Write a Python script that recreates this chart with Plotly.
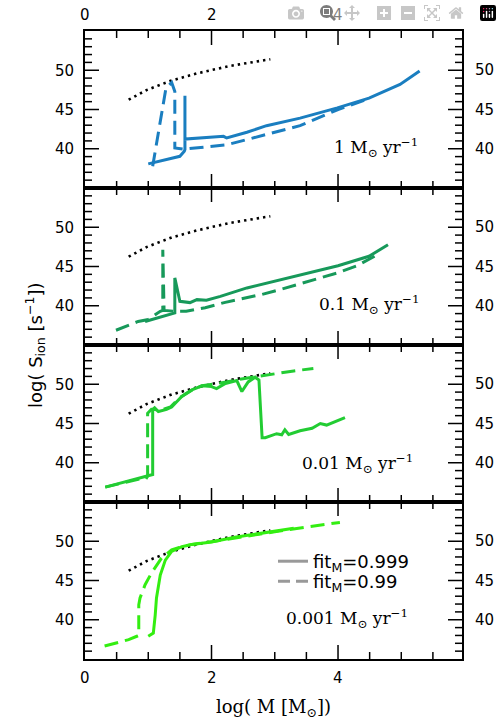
import plotly.graph_objects as go
from plotly.subplots import make_subplots

# ---------------- data ----------------
ZAMS_X = [0.69, 0.98, 1.37, 1.77, 2.29, 2.93]
ZAMS_Y = [46.25, 47.5, 48.7, 49.6, 50.55, 51.4]

P1_SOLID_X = [1.0, 1.5, 1.57, 1.58, 1.58, 1.58, 2.19, 2.24, 2.56, 2.87, 3.4, 3.99, 4.49, 4.98, 5.29]
P1_SOLID_Y = [38.07, 39.04, 39.67, 39.9, 46.75, 41.24, 41.58, 41.37, 42.1, 42.94, 43.9, 45.2, 46.45, 48.2, 49.9]
P1_DASH_X = [1.07, 1.28, 1.37, 1.42, 1.42, 1.56, 2.24, 2.87, 3.4, 4.0, 4.5]
P1_DASH_Y = [37.77, 47.72, 48.43, 47.3, 40.1, 39.95, 40.5, 41.8, 42.94, 45.0, 46.4]

P2_SOLID_X = [0.95, 1.42, 1.42, 1.5, 1.66, 1.77, 1.92, 2.14, 2.56, 2.98, 3.4, 4.0, 4.49, 4.79]
P2_SOLID_Y = [38.0, 39.1, 43.55, 40.57, 40.4, 40.78, 40.7, 41.2, 42.27, 43.1, 43.96, 45.1, 46.3, 47.78]
P2_DASH_X = [0.49, 0.84, 1.0, 1.19, 1.23, 1.23, 1.25, 1.42, 1.6, 1.9, 2.2, 2.5, 2.8, 3.1, 3.4, 3.7, 4.0, 4.3, 4.5, 4.6]
P2_DASH_Y = [36.88, 38.0, 38.24, 39.3, 39.4, 47.14, 39.4, 39.3, 39.3, 39.75, 40.4, 40.95, 41.45, 42.1, 42.8, 43.45, 44.2, 45.1, 45.96, 46.4]

P3_SOLID_X = [0.32, 0.95, 1.07, 1.07, 1.1, 1.16, 1.29, 1.37, 1.53, 1.69, 1.85, 2.0, 2.08, 2.22, 2.4, 2.48, 2.58, 2.69,
              2.75, 2.8, 2.85, 3.03, 3.11, 3.16, 3.22, 3.40, 3.59, 3.72, 3.82, 4.11]
P3_SOLID_Y = [36.9, 38.3, 38.5, 46.8, 47.0, 46.53, 46.8, 47.1, 48.44, 49.3, 49.8, 49.7, 49.45, 50.1, 50.47, 49.07, 50.3, 50.9,
              50.55, 43.2, 43.2, 43.7, 43.56, 44.2, 43.6, 44.07, 44.4, 45.0, 44.8, 45.76]
P3_DASH_X = [0.32, 0.9, 0.96, 0.99, 0.99, 1.05, 1.2, 1.35, 1.5, 1.7, 1.85, 2.1, 2.5, 2.95, 3.3, 3.61]
P3_DASH_Y = [36.9, 38.0, 37.9, 38.3, 46.3, 46.8, 46.7, 47.1, 48.3, 49.3, 49.8, 50.1, 50.7, 51.3, 51.7, 52.0]

P4_SOLID_X = [1.0, 1.08, 1.11, 1.13, 1.19, 1.27, 1.37, 1.53, 1.69, 2.0, 2.37, 2.8, 3.3]
P4_SOLID_Y = [37.9, 38.3, 40.6, 42.77, 45.7, 47.6, 48.7, 49.3, 49.6, 49.9, 50.5, 51.0, 51.66]
P4_DASH_X = [0.31, 0.69, 0.82, 0.85, 0.85, 0.87, 0.95, 1.05, 1.21, 1.37, 1.53, 1.69, 2.0, 2.5, 3.0, 3.5, 4.03]
P4_DASH_Y = [36.65, 37.47, 37.9, 38.0, 41.9, 42.77, 44.46, 45.94, 47.85, 48.9, 49.3, 49.6, 49.95, 50.6, 51.2, 51.8, 52.4]

RATE_LABELS = ["1 M<sub>\u2299</sub> yr<sup>\u22121</sup>",
               "0.1 M<sub>\u2299</sub> yr<sup>\u22121</sup>",
               "0.01 M<sub>\u2299</sub> yr<sup>\u22121</sup>",
               "0.001 M<sub>\u2299</sub> yr<sup>\u22121</sup>"]
LEGEND_NAMES = ["fit<sub>M</sub>=0.999", "fit<sub>M</sub>=0.99"]
Y_TICKS = [35, 40, 45, 50, 55]
Y_TICKTEXT = ["", "40", "45", "50", ""]
Y_LABELED = [40, 45, 50]
X_TICKS = [0, 2, 4]
X_TICKTEXT = ["0", "2", "4"]
# tick-mark positions (major + minor) inside each panel frame
X_TICK_MARKS = [0.5, 1.0, 1.5, 2.0, 2.5, 3.0, 3.5, 4.0, 4.5, 5.0, 5.5]
X_MAJOR_MARKS = [2.0, 4.0]
Y_TICK_MARKS = [36, 37, 38, 39, 40, 41, 42, 43, 44, 45, 46, 47, 48, 49, 50, 51, 52, 53, 54]
Y_MAJOR_MARKS = [40, 45, 50]

COLORS = ["#1a7ec0", "#17995a", "#22cc33", "#33ee11"]

panels = [
    (P1_SOLID_X, P1_SOLID_Y, P1_DASH_X, P1_DASH_Y),
    (P2_SOLID_X, P2_SOLID_Y, P2_DASH_X, P2_DASH_Y),
    (P3_SOLID_X, P3_SOLID_Y, P3_DASH_X, P3_DASH_Y),
    (P4_SOLID_X, P4_SOLID_Y, P4_DASH_X, P4_DASH_Y),
]

SANS = "DejaVu Sans, Verdana, sans-serif"
SERIF = "DejaVu Serif, Georgia, serif"
XR = [0, 5.96]
YR = [35, 55]
TICKFONT = dict(size=15, family=SANS, color="black")
PAD = "\u2009\u2009"
MAJOR_LEN = 14
MINOR_LEN = 7
TICK_LINE = dict(color="black", width=1.5)

fig = make_subplots(rows=4, cols=1, shared_xaxes=True, vertical_spacing=0)

DASH = "14px,7px"
for i, (sx, sy, dx, dy) in enumerate(panels):
    r = i + 1
    fig.add_trace(go.Scatter(x=ZAMS_X, y=ZAMS_Y, mode="lines", showlegend=False, hoverinfo="skip",
                             line=dict(color="black", width=2.6, dash="2.4px,4px")), row=r, col=1)
    fig.add_trace(go.Scatter(x=dx, y=dy, mode="lines", showlegend=False,
                             line=dict(color=COLORS[i], width=3, dash=DASH)), row=r, col=1)
    fig.add_trace(go.Scatter(x=sx, y=sy, mode="lines", showlegend=False,
                             line=dict(color=COLORS[i], width=3)), row=r, col=1)

# legend entries (gray), each in its own legend box
fig.add_trace(go.Scatter(x=[None], y=[None], mode="lines", name=LEGEND_NAMES[0], legend="legend",
                         line=dict(color="#999999", width=3)), row=4, col=1)
fig.add_trace(go.Scatter(x=[None], y=[None], mode="lines", name=LEGEND_NAMES[1], legend="legend2",
                         line=dict(color="#999999", width=3, dash="12px,6px")), row=4, col=1)

base = dict(showline=True, linecolor="black", mirror=True, ticks="", showgrid=False,
            zeroline=False, automargin=False, tickfont=TICKFONT)

for r in range(1, 5):
    fig.update_xaxes(range=XR, tickvals=X_TICKS, showticklabels=False,
                     linewidth=1.7, row=r, col=1, **base)
    fig.update_yaxes(range=YR, tickvals=Y_TICKS, ticktext=[t + PAD if t else t for t in Y_TICKTEXT],
                     showticklabels=True, linewidth=2, row=r, col=1, **base)

# inward tick marks on all four sides of every panel (placed on the axes' own scales)
xrefs = ["x", "x2", "x3", "x4"]
yrefs = ["y", "y2", "y3", "y4"]
shapes = []
for xr, yr in zip(xrefs, yrefs):
    for v in X_TICK_MARKS:
        L = MAJOR_LEN if v in X_MAJOR_MARKS else MINOR_LEN
        shapes.append(dict(type="line", xref=xr, yref=yr + " domain", x0=v, x1=v,
                           ysizemode="pixel", yanchor=0, y0=0, y1=L, line=TICK_LINE))
        shapes.append(dict(type="line", xref=xr, yref=yr + " domain", x0=v, x1=v,
                           ysizemode="pixel", yanchor=1, y0=0, y1=-L, line=TICK_LINE))
    for v in Y_TICK_MARKS:
        L = MAJOR_LEN if v in Y_MAJOR_MARKS else MINOR_LEN
        shapes.append(dict(type="line", xref=xr + " domain", yref=yr, y0=v, y1=v,
                           xsizemode="pixel", xanchor=0, x0=0, x1=L, line=TICK_LINE))
        shapes.append(dict(type="line", xref=xr + " domain", yref=yr, y0=v, y1=v,
                           xsizemode="pixel", xanchor=1, x0=0, x1=-L, line=TICK_LINE))

annotations = []
for yr in yrefs:
    for v in Y_LABELED:
        annotations.append(dict(x=1, y=v, xref="paper", yref=yr, text=str(v), showarrow=False,
                                xanchor="left", yanchor="middle", xshift=11, font=TICKFONT))
for v, t in zip(X_TICKS, X_TICKTEXT):
    annotations.append(dict(x=v, y=1, xref="x", yref="paper", text=t, showarrow=False,
                            xanchor="center", yanchor="middle", yshift=16, font=TICKFONT))
    annotations.append(dict(x=v, y=0, xref="x4", yref="paper", text=t, showarrow=False,
                            xanchor="center", yanchor="middle", yshift=-19, font=TICKFONT))

label_pos = [(5.3, 40.2), (5.33, 40.15), (5.22, 39.9), (5.14, 40.1)]
for k, ((lx, ly), txt) in enumerate(zip(label_pos, RATE_LABELS)):
    annotations.append(dict(x=lx, y=ly, xref=xrefs[k], yref=yrefs[k], text=txt, showarrow=False,
                            xanchor="right", yanchor="middle", font=dict(size=17, family=SERIF, color="black")))
annotations.append(dict(x=-0.1724, y=0.5, xref="paper", yref="paper", textangle=-90,
                        text="log( S<sub>ion</sub> [s<sup>\u22121</sup>])", showarrow=False,
                        font=dict(size=18, family=SANS, color="black")))
annotations.append(dict(x=0.5, y=-0.078, xref="paper", yref="paper",
                        text="log( M [M<sub>\u2299</sub>])", showarrow=False, yanchor="middle",
                        font=dict(size=18, family=SERIF, color="black")))

legend_style = dict(xanchor="left", yanchor="top", bgcolor="rgba(0,0,0,0)",
                    font=dict(size=18, family=SANS, color="black"))
fig.update_layout(
    width=502, height=724,
    margin=dict(l=85, r=40, t=31, b=65, autoexpand=False),
    paper_bgcolor="white", plot_bgcolor="white",
    font=dict(family=SANS, size=17, color="black"),
    annotations=annotations,
    shapes=shapes,
    showlegend=True,
    legend=dict(x=0.4987, y=0.1847, **legend_style),
    legend2=dict(x=0.4987, y=0.1529, **legend_style),
)

fig.write_html("out.html", post_script="document.body.style.margin='0px';")
